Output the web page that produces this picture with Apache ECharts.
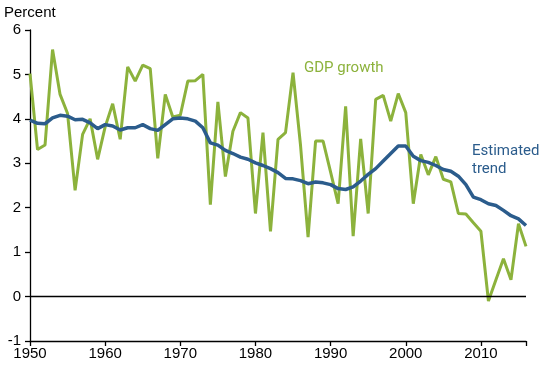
<!DOCTYPE html>
<html>
<head>
<meta charset="utf-8">
<script src="https://cdn.jsdelivr.net/npm/echarts@6/dist/echarts.min.js"></script>
<style>html,body{margin:0;padding:0;background:#fff}#c{width:550px;height:365px}</style>
</head>
<body>
<div id="c"></div>
<script>
var startYear = 1950;
var gdpGrowth = [5.02,3.31,3.41,5.56,4.55,4.12,2.39,3.65,4.0,3.09,
  3.82,4.34,3.54,5.17,4.85,5.21,5.13,3.11,4.55,4.04,
  4.08,4.85,4.86,5.0,2.07,4.38,2.7,3.72,4.14,4.02,
  1.87,3.69,1.47,3.54,3.69,5.04,3.4,1.34,3.5,3.5,
  2.8,2.09,4.28,1.36,3.55,1.87,4.44,4.53,3.95,4.57,
  4.14,2.09,3.2,2.74,3.15,2.64,2.58,1.87,1.86,1.66,
  1.47,-0.1,0.38,0.85,0.38,1.64,1.13];
var trend = [3.97,3.9,3.89,4.02,4.08,4.06,3.98,3.99,3.91,3.78,
  3.87,3.84,3.75,3.8,3.8,3.87,3.78,3.74,3.87,4.0,
  4.02,4.0,3.95,3.8,3.46,3.41,3.29,3.22,3.14,3.09,
  3.01,2.95,2.88,2.79,2.66,2.65,2.61,2.54,2.58,2.56,
  2.52,2.43,2.41,2.47,2.6,2.75,2.88,3.05,3.22,3.39,
  3.39,3.16,3.06,3.02,2.95,2.86,2.82,2.71,2.52,2.24,
  2.18,2.09,2.05,1.94,1.82,1.75,1.6];
var xTicks = [1950,1960,1970,1980,1990,2000,2010];
var yTicks = [-1,0,1,2,3,4,5,6];

function pairs(arr){ return arr.map(function(v,i){ return [startYear+i, v]; }); }

var tickFont = 'Liberation Sans';
var chart = echarts.init(document.getElementById('c'), null, {renderer:'canvas'});
chart.setOption({
  animation:false,
  grid:{left:30,right:24,top:30,bottom:24},
  xAxis:{type:'value',min:1950,max:2016,interval:10,
    axisLine:{show:true,onZero:false,lineStyle:{color:'#000',width:1.3}},
    axisTick:{show:true,length:5,lineStyle:{color:'#000',width:1.3}},
    axisLabel:{color:'#000',fontSize:15,fontFamily:tickFont,margin:5,
      formatter:function(v){return xTicks.indexOf(v)>=0?String(v):'';}},
    splitLine:{show:false}},
  yAxis:{type:'value',min:-1,max:6,interval:1,
    axisLine:{show:true,onZero:false,lineStyle:{color:'#000',width:1.3}},
    axisTick:{show:true,length:5,lineStyle:{color:'#000',width:1.3}},
    axisLabel:{color:'#000',fontSize:15,fontFamily:tickFont,margin:9,
      formatter:function(v){return yTicks.indexOf(v)>=0?String(v):'';}},
    splitLine:{show:false}},
  series:[
    {name:'GDP growth',type:'line',data:pairs(gdpGrowth),showSymbol:false,
      lineStyle:{color:'#8cb23c',width:3},itemStyle:{color:'#8cb23c'},z:2,
      markLine:{silent:true,symbol:'none',label:{show:false},
        lineStyle:{color:'#000',width:1.3,type:'solid'},data:[{yAxis:0}]}},
    {name:'Estimated trend',type:'line',data:pairs(trend),showSymbol:false,
      lineStyle:{color:'#2b5c8c',width:3.5},itemStyle:{color:'#2b5c8c'},z:3}
  ],
  graphic:[
    {type:'text',left:4,top:5,style:{text:'Percent',fontSize:15,fontFamily:tickFont,fill:'#000'}},
    {type:'text',left:304,top:61,style:{text:'GDP growth',fontSize:15,fontFamily:'Roboto',fill:'#8cb23c'}},
    {type:'text',left:472,top:142,style:{text:'Estimated\ntrend',fontSize:15,lineHeight:18,fontFamily:'Roboto',fill:'#2b5c8c'}}
  ]
});
</script>
</body>
</html>
